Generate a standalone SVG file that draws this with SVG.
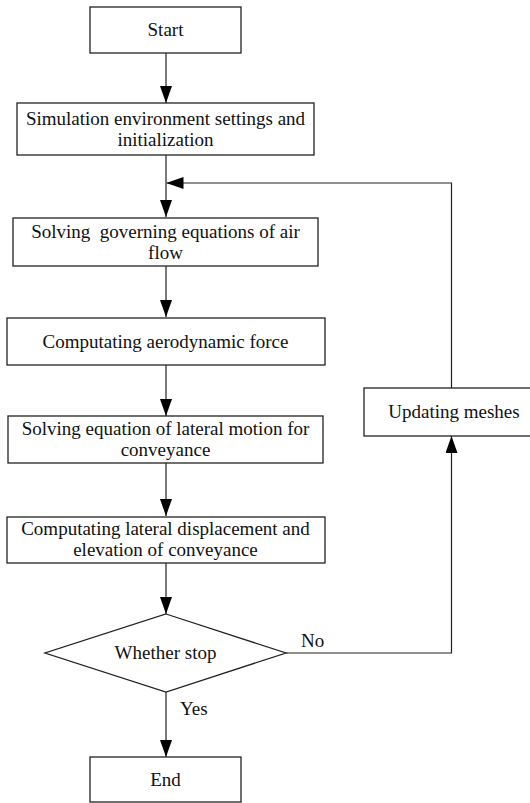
<svg xmlns="http://www.w3.org/2000/svg" width="530" height="803" viewBox="0 0 530 803">
<defs>
<style>
.box{fill:#fff;stroke:#222;stroke-width:1.3}
.ln{fill:none;stroke:#222;stroke-width:1.2}
text{font-family:'Liberation Serif','Times New Roman',Tinos,'DejaVu Serif',serif;font-size:19px;fill:#111}
.t{text-anchor:middle}
</style>
<marker id="ah" markerUnits="userSpaceOnUse" markerWidth="17" markerHeight="12" viewBox="0 0 17 12" refX="17" refY="6" orient="auto">
<path d="M0,0 L17,6 L0,12 Z" fill="#000"/>
</marker>
</defs>
<rect width="530" height="803" fill="#fff"/>
<g id="connectors" font-family="Liberation Serif, serif">
<line class="ln" x1="166" y1="53" x2="166" y2="103" marker-end="url(#ah)"/>
<line class="ln" x1="166" y1="155" x2="166" y2="217" marker-end="url(#ah)"/>
<polyline class="ln" points="451.5,388 451.5,183 166.5,183" marker-end="url(#ah)"/>
<line class="ln" x1="166" y1="266" x2="166" y2="317" marker-end="url(#ah)"/>
<line class="ln" x1="166" y1="365" x2="166" y2="416" marker-end="url(#ah)"/>
<line class="ln" x1="166" y1="463" x2="166" y2="516" marker-end="url(#ah)"/>
<line class="ln" x1="166" y1="563" x2="166" y2="614" marker-end="url(#ah)"/>
<polyline class="ln" points="286,653 451.5,653 451.5,436" marker-end="url(#ah)"/>
<line class="ln" x1="166" y1="692" x2="166" y2="757" marker-end="url(#ah)"/>
<text x="301" y="647">No</text>
<text x="180" y="715">Yes</text>
</g>
<g id="start">
<rect class="box" x="90" y="7" width="151" height="46"/>
<text class="t" x="165.5" y="36">Start</text>
</g>
<g id="init">
<rect class="box" x="17" y="103" width="297" height="52"/>
<text class="t" x="165.5" y="125">Simulation environment settings and</text>
<text class="t" x="165.5" y="146">initialization</text>
</g>
<g id="airflow">
<rect class="box" x="13" y="218" width="305" height="48"/>
<text class="t" x="165.5" y="238" xml:space="preserve">Solving  governing equations of air</text>
<text class="t" x="165.5" y="259">flow</text>
</g>
<g id="force">
<rect class="box" x="7" y="318" width="318" height="47"/>
<text class="t" x="165.5" y="348">Computating aerodynamic force</text>
</g>
<g id="motion">
<rect class="box" x="8" y="416" width="315" height="47"/>
<text class="t" x="165.5" y="435">Solving equation of lateral motion for</text>
<text class="t" x="165.5" y="456">conveyance</text>
</g>
<g id="displacement">
<rect class="box" x="7" y="517" width="318" height="46"/>
<text class="t" x="165.5" y="535">Computating lateral displacement and</text>
<text class="t" x="165.5" y="556">elevation of conveyance</text>
</g>
<g id="decision">
<polygon class="box" points="166,614 286,653 166,692 45,653"/>
<text class="t" x="165.5" y="659">Whether stop</text>
</g>
<g id="meshes">
<rect class="box" x="364" y="388" width="180" height="48"/>
<text class="t" x="454" y="418">Updating meshes</text>
</g>
<g id="end">
<rect class="box" x="90" y="757" width="151" height="45"/>
<text class="t" x="165.5" y="786">End</text>
</g>
</svg>
